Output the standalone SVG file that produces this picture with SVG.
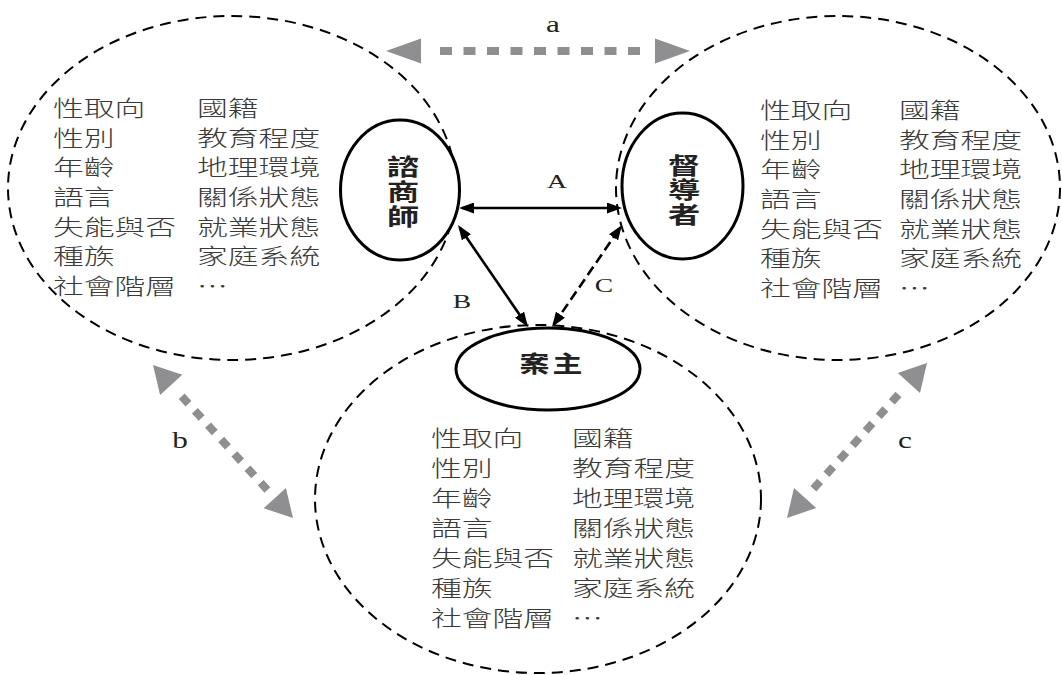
<svg xmlns="http://www.w3.org/2000/svg" width="1062" height="675" viewBox="0 0 1062 675">
<defs>
<style>
.dash{fill:none;stroke:#000;stroke-width:2;stroke-dasharray:11 7}
.node{fill:#fff;stroke:#000;stroke-width:3}
.list{font-family:"Noto Sans CJK TC","Noto Sans CJK SC",sans-serif;font-size:22px;font-weight:300;fill:#3a3a3a}
.nlabel{font-family:"Noto Sans CJK TC","Noto Sans CJK SC",sans-serif;font-size:23px;font-weight:bold;fill:#222}
.vert{writing-mode:vertical-rl;text-orientation:upright}
.let{font-family:"Liberation Serif",serif;fill:#222;text-anchor:middle}
.conn{stroke:#000;stroke-width:2.6;fill:none}
.gray{stroke:#8f8f91;stroke-width:8;fill:none}
.ghead{fill:#8f8f91}
</style>
<marker id="ah" viewBox="0 0 15 11" refX="12" refY="5.5" markerWidth="15" markerHeight="11" markerUnits="userSpaceOnUse" orient="auto-start-reverse">
<path d="M0,0 L15,5.5 L0,11 z" fill="#000"/>
</marker>
</defs>
<rect width="1062" height="675" fill="#fff"/>

<g id="circle-counselor">
<ellipse class="dash" cx="232" cy="188" rx="224" ry="172"/>
</g>
<g id="circle-supervisor">
<ellipse class="dash" cx="838" cy="188" rx="222" ry="172"/>
</g>
<g id="circle-client">
<ellipse class="dash" cx="538" cy="499" rx="223" ry="174"/>
</g>

<g id="list-counselor" class="list" transform="translate(53,0) scale(1.4,1)">
<text x="0" y="116">性取向</text><text x="102.9" y="116">國籍</text>
<text x="0" y="145.7">性別</text><text x="102.9" y="145.7">教育程度</text>
<text x="0" y="175.4">年齡</text><text x="102.9" y="175.4">地理環境</text>
<text x="0" y="205.1">語言</text><text x="102.9" y="205.1">關係狀態</text>
<text x="0" y="234.8">失能與否</text><text x="102.9" y="234.8">就業狀態</text>
<text x="0" y="264.5">種族</text><text x="102.9" y="264.5">家庭系統</text>
<text x="0" y="294.2">社會階層</text><text x="102.9" y="294.2">…</text>
</g>

<g id="list-supervisor" class="list" transform="translate(760,0) scale(1.4,1)">
<text x="0" y="118">性取向</text><text x="99.3" y="118">國籍</text>
<text x="0" y="147.7">性別</text><text x="99.3" y="147.7">教育程度</text>
<text x="0" y="177.4">年齡</text><text x="99.3" y="177.4">地理環境</text>
<text x="0" y="207.1">語言</text><text x="99.3" y="207.1">關係狀態</text>
<text x="0" y="236.8">失能與否</text><text x="99.3" y="236.8">就業狀態</text>
<text x="0" y="266.5">種族</text><text x="99.3" y="266.5">家庭系統</text>
<text x="0" y="296.2">社會階層</text><text x="99.3" y="296.2">…</text>
</g>

<g id="list-client" class="list" transform="translate(431,0) scale(1.4,1)">
<text x="0" y="446.5">性取向</text><text x="100.7" y="446.5">國籍</text>
<text x="0" y="476.4">性別</text><text x="100.7" y="476.4">教育程度</text>
<text x="0" y="506.3">年齡</text><text x="100.7" y="506.3">地理環境</text>
<text x="0" y="536.2">語言</text><text x="100.7" y="536.2">關係狀態</text>
<text x="0" y="566.1">失能與否</text><text x="100.7" y="566.1">就業狀態</text>
<text x="0" y="596">種族</text><text x="100.7" y="596">家庭系統</text>
<text x="0" y="625.9">社會階層</text><text x="100.7" y="625.9">…</text>
</g>

<g id="node-counselor">
<ellipse class="node" cx="400" cy="190" rx="59.5" ry="70"/>
<text class="nlabel vert" transform="translate(403,154.3) scale(1.4,1)" x="0" y="0" letter-spacing="2">諮商師</text>
</g>

<g id="node-supervisor">
<ellipse class="node" cx="682.5" cy="186" rx="60.5" ry="73"/>
<text class="nlabel vert" transform="translate(684,153.5) scale(1.4,1)" x="0" y="0" letter-spacing="1.6">督導者</text>
</g>

<g id="node-client">
<ellipse class="node" cx="548" cy="369" rx="92" ry="41"/>
<text class="nlabel" transform="translate(552.5,372) scale(1.3,1)" text-anchor="middle" letter-spacing="2.4">案主</text>
</g>

<g id="connectors">
<line class="conn" x1="462" y1="208" x2="619" y2="208" marker-start="url(#ah)" marker-end="url(#ah)"/>
<line class="conn" x1="459.7" y1="227.5" x2="526.3" y2="324.5" marker-start="url(#ah)" marker-end="url(#ah)"/>
<line class="conn" x1="553.7" y1="324.5" x2="620.3" y2="227.5" stroke-width="3.2" stroke-dasharray="10 5" marker-start="url(#ah)" marker-end="url(#ah)"/>

<line class="gray" x1="440" y1="51" x2="640" y2="51" stroke-dasharray="12 11.5"/>
<polygon class="ghead" points="386,51 421,38.5 421,63.5"/>
<polygon class="ghead" points="690,51 655,38.5 655,63.5"/>

<line class="gray" x1="181.7" y1="396.3" x2="267.4" y2="490" stroke-dasharray="10 9.5"/>
<polygon class="ghead" points="153,365 182.3,374.8 160.1,395"/>
<polygon class="ghead" points="293,518 285.9,488 263.7,508.2"/>

<line class="gray" x1="898.5" y1="394.5" x2="813.4" y2="488.7" stroke-dasharray="10 9.5"/>
<polygon class="ghead" points="927,363 920,393.1 897.8,373"/>
<polygon class="ghead" points="787,518 816.2,508.1 794,487.9"/>

<g class="let" font-size="19">
<text transform="translate(557,188) scale(1.45,1)">A</text>
<text transform="translate(462,308) scale(1.45,1)">B</text>
<text transform="translate(604,292) scale(1.45,1)">C</text>
</g>
<g class="let" font-size="24">
<text transform="translate(553,32) scale(1.3,1)">a</text>
<text transform="translate(180,448) scale(1.3,1)">b</text>
<text transform="translate(905,448) scale(1.3,1)">c</text>
</g>
</g>
</svg>
